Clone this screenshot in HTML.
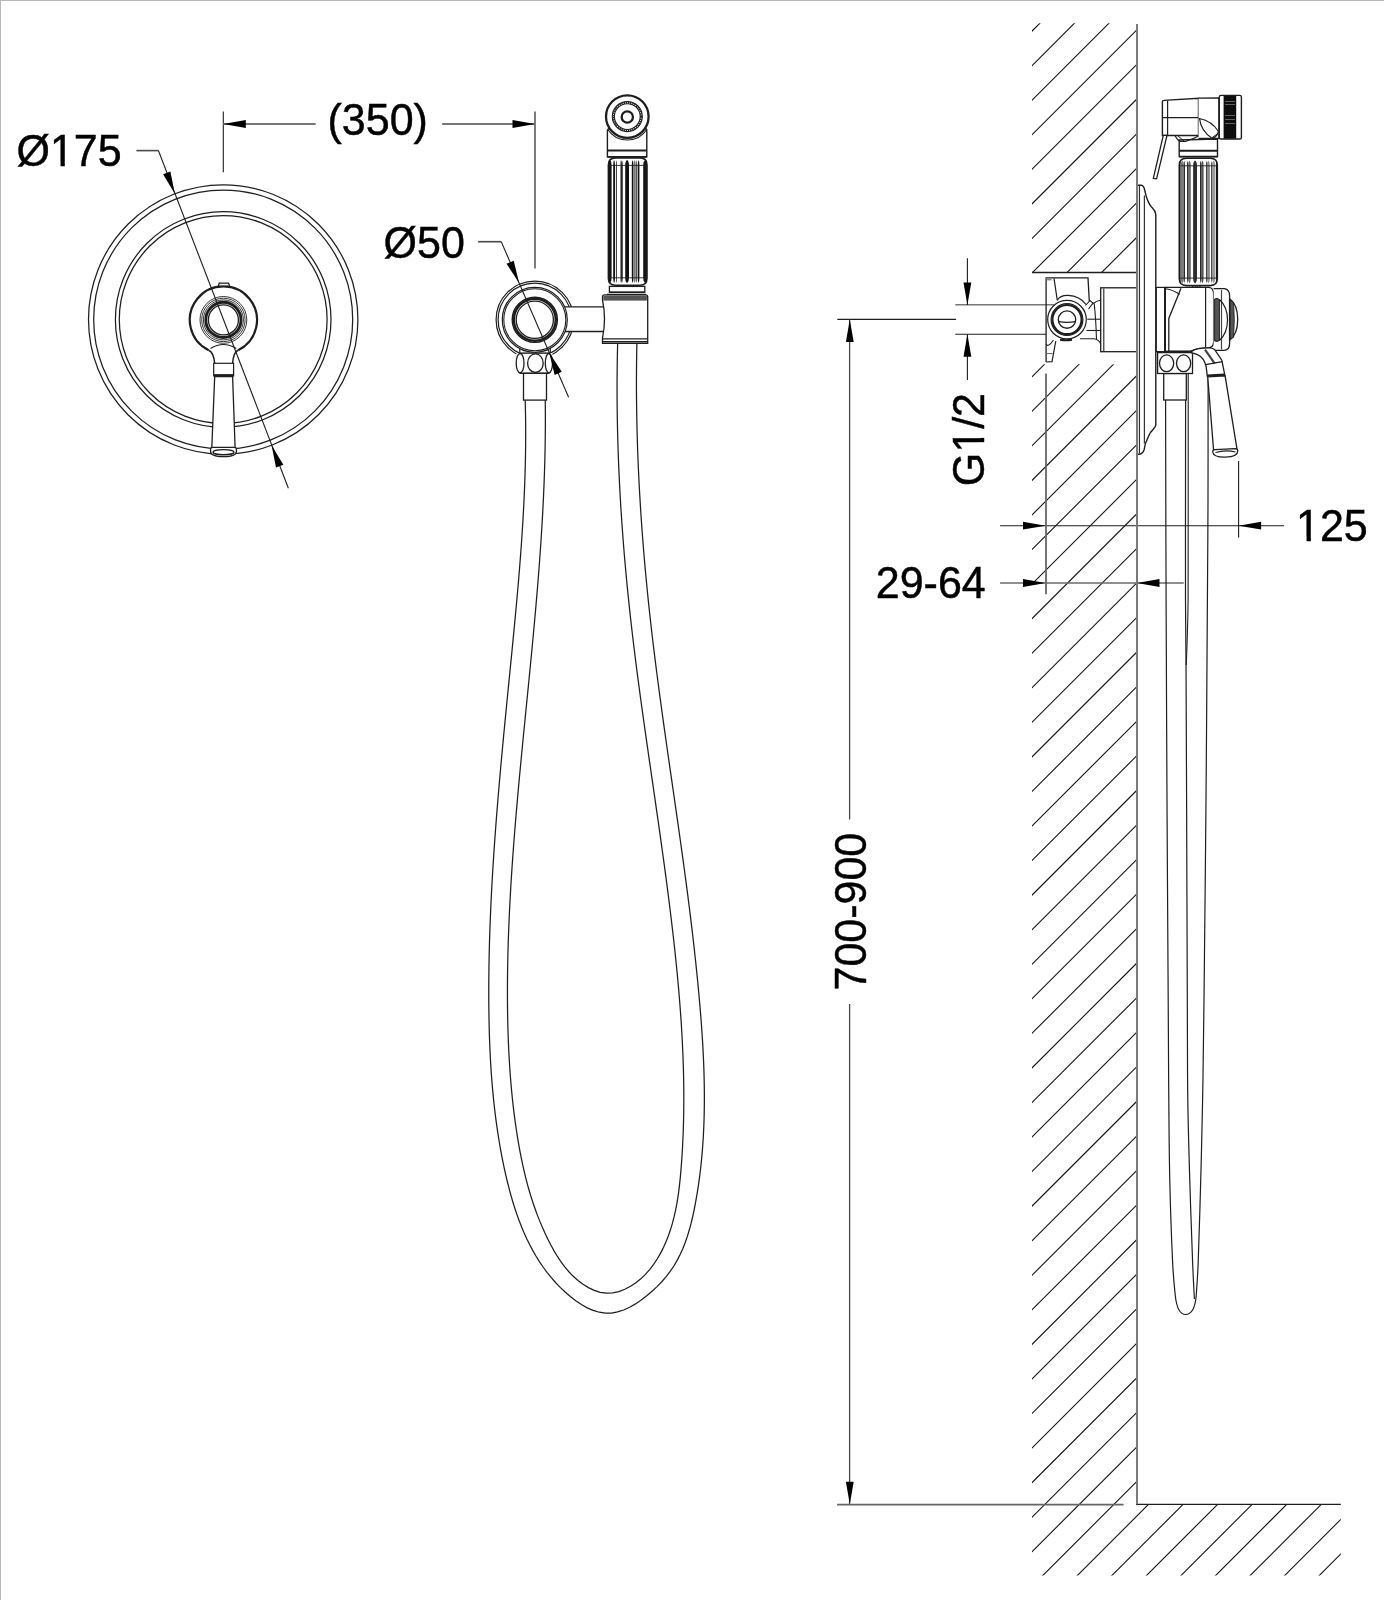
<!DOCTYPE html>
<html><head><meta charset="utf-8"><style>
html,body{margin:0;padding:0;background:#fff;}
body{width:1384px;height:1600px;overflow:hidden;}
svg{display:block;}
text{font-family:"Liberation Sans",sans-serif;fill:#000;stroke:#000;stroke-width:0.45px;}
svg{filter:grayscale(1);}
</style></head><body>
<svg width="1384" height="1600" viewBox="0 0 1384 1600">
<rect x="0" y="0" width="1384" height="1600" fill="#fff"/>
<line x1="0.00" y1="0.50" x2="1384.00" y2="0.50" stroke="#b9b9b9" stroke-width="1" />
<line x1="0.50" y1="0.00" x2="0.50" y2="1600.00" stroke="#b9b9b9" stroke-width="1" />
<circle cx="223.20" cy="319.50" r="134.70" stroke="#1e1e1e" stroke-width="1.25" fill="none" />
<circle cx="223.20" cy="319.50" r="129.50" stroke="#1e1e1e" stroke-width="1.25" fill="none" />
<circle cx="223.20" cy="319.50" r="107.80" stroke="#1e1e1e" stroke-width="1.25" fill="none" />
<circle cx="223.20" cy="319.50" r="103.90" stroke="#1e1e1e" stroke-width="1.25" fill="none" />
<path d="M208.67,350.20 A33.6,33.6 0 1 1 238.13,350.20" stroke="#1e1e1e" stroke-width="2.2" fill="none" />
<path d="M208.67,350.20 Q213.5,352 214.7,363.3" stroke="#1e1e1e" stroke-width="1.5" fill="none" />
<path d="M238.13,350.20 Q233.5,352 232.6,363.3" stroke="#1e1e1e" stroke-width="1.5" fill="none" />
<path d="M210.5,348.5 Q223.4,340.5 236.3,348.5" stroke="#1e1e1e" stroke-width="1.1" fill="none" />
<path d="M217.80,287.60 L219.20,283.20 L228.60,283.20 L230.00,287.60" stroke="#1e1e1e" stroke-width="1.3" fill="none" />
<line x1="219.50" y1="285.30" x2="228.30" y2="285.30" stroke="#777" stroke-width="0.8" />
<circle cx="223.40" cy="319.90" r="23.40" stroke="#1e1e1e" stroke-width="0.9" fill="none" />
<circle cx="223.40" cy="319.90" r="21.70" stroke="#1e1e1e" stroke-width="0.9" fill="none" />
<circle cx="223.40" cy="319.90" r="20.00" stroke="#1e1e1e" stroke-width="0.9" fill="none" />
<circle cx="223.40" cy="319.90" r="17.60" stroke="#1e1e1e" stroke-width="2.9" fill="none" />
<circle cx="223.40" cy="319.90" r="15.00" stroke="#1e1e1e" stroke-width="1.3" fill="none" />
<rect x="213.70" y="363.30" width="19.90" height="12.60" stroke="#1e1e1e" stroke-width="1.2" fill="#fff"/>
<line x1="213.70" y1="375.20" x2="233.60" y2="375.20" stroke="#1e1e1e" stroke-width="2.2" />
<path d="M214.70,376.50 L232.60,376.50 L235.10,447.60 L211.80,447.60 Z" stroke="#1e1e1e" stroke-width="1.3" fill="#fff" />
<path d="M210.6,449 Q210.6,447.3 213,447.3 L234,447.3 Q236.4,447.3 236.4,449 L236.4,451.5 Q236.4,456.6 223.5,456.6 Q210.6,456.6 210.6,451.5 Z" stroke="#1e1e1e" stroke-width="1.3" fill="#fff" />
<ellipse cx="223.50" cy="452.20" rx="10.50" ry="2.60" stroke="#1e1e1e" stroke-width="1.4" fill="none"/>
<line x1="136.40" y1="150.60" x2="158.40" y2="150.60" stroke="#4a4a4a" stroke-width="1.6" />
<line x1="158.40" y1="150.50" x2="288.40" y2="488.30" stroke="#1e1e1e" stroke-width="1.1" />
<path d="M174.82,193.79 L163.10,174.19 L170.38,171.39 Z" fill="#000" stroke="none"/>
<path d="M271.58,445.21 L283.30,464.81 L276.02,467.61 Z" fill="#000" stroke="none"/>
<g transform="translate(16.50,166.30) scale(1,1.04)"><text x="0" y="0" font-size="43">Ø175</text><rect x="36.00" y="-4.21" width="8.01" height="5.61" fill="#fff"/><rect x="48.31" y="-4.21" width="7.68" height="5.61" fill="#fff"/></g>
<line x1="223.30" y1="111.60" x2="223.30" y2="172.30" stroke="#1e1e1e" stroke-width="1.1" />
<line x1="535.00" y1="111.60" x2="535.00" y2="268.60" stroke="#777" stroke-width="1.9" />
<line x1="223.30" y1="124.00" x2="315.70" y2="124.00" stroke="#777" stroke-width="1.9" />
<line x1="442.20" y1="124.00" x2="535.00" y2="124.00" stroke="#777" stroke-width="1.9" />
<path d="M223.30,124.00 L245.80,120.10 L245.80,127.90 Z" fill="#000" stroke="none"/>
<path d="M535.00,124.00 L512.50,127.90 L512.50,120.10 Z" fill="#000" stroke="none"/>
<g transform="translate(327.50,135.30) scale(1,1.04)"><text x="0" y="0" font-size="43">(350)</text></g>
<path d="M525.16,398.96 L525.34,405.59 L525.48,412.22 L525.59,418.84 L525.65,425.46 L525.68,432.07 L525.67,438.69 L525.62,445.30 L525.54,451.91 L525.43,458.52 L525.29,465.12 L525.11,471.72 L524.90,478.32 L524.67,484.92 L524.40,491.52 L524.11,498.11 L523.79,504.70 L523.44,511.30 L523.08,517.89 L522.68,524.47 L522.27,531.06 L521.83,537.65 L521.38,544.23 L520.90,550.81 L520.41,557.40 L519.89,563.98 L519.37,570.56 L518.82,577.14 L518.26,583.72 L517.69,590.29 L517.11,596.87 L516.51,603.45 L515.91,610.03 L515.29,616.60 L514.67,623.18 L514.04,629.76 L513.40,636.34 L512.76,642.91 L512.12,649.49 L511.47,656.07 L510.81,662.64 L510.16,669.22 L509.51,675.80 L508.85,682.38 L508.20,688.96 L507.55,695.54 L506.90,702.12 L506.26,708.70 L505.62,715.29 L504.98,721.87 L504.34,728.45 L503.71,735.04 L503.09,741.62 L502.47,748.21 L501.86,754.79 L501.25,761.38 L500.65,767.97 L500.07,774.55 L499.48,781.14 L498.91,787.73 L498.35,794.32 L497.80,800.91 L497.26,807.50 L496.73,814.09 L496.21,820.68 L495.71,827.27 L495.22,833.86 L494.74,840.45 L494.28,847.05 L493.83,853.64 L493.39,860.23 L492.97,866.83 L492.57,873.42 L492.19,880.02 L491.82,886.61 L491.47,893.21 L491.14,899.80 L490.83,906.40 L490.54,913.00 L490.27,919.59 L490.01,926.19 L489.78,932.79 L489.58,939.39 L489.39,945.99 L489.23,952.59 L489.09,959.19 L488.97,965.79 L488.88,972.39 L488.82,978.99 L488.78,985.59 L488.77,992.20 L488.78,998.80 L488.82,1005.40 L488.89,1012.00 L488.99,1018.61 L489.13,1025.21 L489.30,1031.81 L489.50,1038.41 L489.75,1045.00 L490.04,1051.60 L490.37,1058.19 L490.75,1064.78 L491.17,1071.37 L491.64,1077.95 L492.17,1084.53 L492.75,1091.11 L493.38,1097.68 L494.07,1104.24 L494.82,1110.80 L495.63,1117.36 L496.51,1123.91 L497.44,1130.45 L498.45,1136.99 L499.53,1143.51 L500.67,1150.04 L501.89,1156.55 L503.19,1163.05 L504.56,1169.55 L506.02,1176.04 L507.56,1182.51 L509.19,1188.95 L510.93,1195.37 L512.79,1201.74 L514.76,1208.07 L516.87,1214.34 L519.11,1220.54 L521.50,1226.68 L524.04,1232.74 L526.75,1238.71 L529.63,1244.58 L532.69,1250.36 L535.95,1256.02 L539.41,1261.58 L543.09,1267.00 L546.99,1272.30 L551.14,1277.46 L555.53,1282.48 L560.19,1287.35 L565.11,1292.06 L570.31,1296.58 L575.75,1300.79 L581.40,1304.59 L587.21,1307.84 L593.16,1310.43 L599.21,1312.23 L605.32,1313.14 L611.45,1313.03 L617.57,1311.93 L623.65,1309.97 L629.64,1307.25 L635.51,1303.91 L641.22,1300.06 L646.74,1295.81 L652.03,1291.29 L657.05,1286.60 L661.77,1281.74 L666.17,1276.70 L670.20,1271.46 L673.85,1266.02 L677.15,1260.39 L680.13,1254.59 L682.80,1248.64 L685.20,1242.55 L687.35,1236.35 L689.28,1230.05 L691.00,1223.67 L692.55,1217.23 L693.96,1210.75 L695.24,1204.23 L696.42,1197.71 L697.51,1191.18 L698.51,1184.64 L699.43,1178.09 L700.25,1171.54 L701.00,1164.98 L701.66,1158.41 L702.24,1151.84 L702.75,1145.27 L703.19,1138.69 L703.55,1132.10 L703.84,1125.51 L704.07,1118.92 L704.23,1112.32 L704.33,1105.72 L704.37,1099.12 L704.36,1092.52 L704.28,1085.91 L704.16,1079.31 L703.99,1072.70 L703.76,1066.09 L703.49,1059.48 L703.18,1052.87 L702.83,1046.26 L702.44,1039.65 L702.01,1033.05 L701.55,1026.44 L701.06,1019.84 L700.54,1013.24 L699.99,1006.64 L699.41,1000.04 L698.82,993.45 L698.20,986.86 L697.56,980.27 L696.91,973.69 L696.23,967.11 L695.53,960.53 L694.82,953.96 L694.09,947.39 L693.35,940.82 L692.58,934.25 L691.81,927.69 L691.01,921.13 L690.21,914.57 L689.39,908.01 L688.56,901.46 L687.72,894.90 L686.86,888.35 L686.00,881.80 L685.12,875.25 L684.24,868.71 L683.35,862.16 L682.44,855.62 L681.54,849.07 L680.62,842.53 L679.70,835.99 L678.78,829.45 L677.85,822.91 L676.91,816.37 L675.98,809.84 L675.04,803.30 L674.10,796.76 L673.16,790.22 L672.21,783.69 L671.27,777.15 L670.33,770.62 L669.39,764.08 L668.45,757.54 L667.51,751.00 L666.58,744.47 L665.65,737.93 L664.73,731.39 L663.81,724.85 L662.90,718.31 L661.99,711.77 L661.10,705.23 L660.21,698.68 L659.33,692.14 L658.45,685.59 L657.59,679.04 L656.74,672.49 L655.90,665.94 L655.08,659.39 L654.26,652.84 L653.46,646.28 L652.67,639.72 L651.90,633.16 L651.14,626.60 L650.40,620.03 L649.68,613.46 L648.97,606.89 L648.28,600.32 L647.61,593.75 L646.96,587.17 L646.32,580.59 L645.70,574.01 L645.10,567.43 L644.51,560.84 L643.95,554.26 L643.40,547.67 L642.88,541.08 L642.37,534.49 L641.88,527.89 L641.41,521.30 L640.96,514.70 L640.54,508.11 L640.13,501.51 L639.74,494.91 L639.37,488.31 L639.02,481.71 L638.70,475.11 L638.39,468.50 L638.11,461.90 L637.85,455.30 L637.61,448.69 L637.39,442.09 L637.20,435.48 L637.02,428.87 L636.87,422.27 L636.74,415.66 L636.64,409.06 L636.56,402.45 L636.50,395.85 L636.46,389.24 L636.45,382.63 L636.47,376.03 L636.50,369.42 L636.57,362.82 L636.65,356.22 L636.76,349.61 L636.90,343.01" stroke="#1e1e1e" stroke-width="1.25" fill="none" />
<path d="M545.23,398.99 L545.31,405.42 L545.36,411.84 L545.38,418.25 L545.37,424.67 L545.33,431.09 L545.26,437.50 L545.17,443.91 L545.06,450.32 L544.91,456.73 L544.75,463.14 L544.56,469.55 L544.34,475.96 L544.10,482.36 L543.84,488.77 L543.56,495.17 L543.26,501.57 L542.94,507.97 L542.60,514.37 L542.24,520.77 L541.86,527.17 L541.46,533.56 L541.05,539.96 L540.62,546.35 L540.17,552.75 L539.71,559.14 L539.24,565.53 L538.75,571.93 L538.24,578.32 L537.73,584.71 L537.20,591.10 L536.66,597.49 L536.11,603.88 L535.55,610.26 L534.98,616.65 L534.41,623.04 L533.82,629.43 L533.23,635.81 L532.63,642.20 L532.02,648.58 L531.41,654.97 L530.79,661.36 L530.17,667.74 L529.54,674.13 L528.91,680.51 L528.28,686.90 L527.65,693.28 L527.01,699.66 L526.38,706.05 L525.74,712.43 L525.11,718.82 L524.47,725.20 L523.84,731.59 L523.21,737.97 L522.59,744.36 L521.97,750.74 L521.35,757.13 L520.74,763.52 L520.13,769.90 L519.53,776.29 L518.94,782.68 L518.35,789.06 L517.78,795.45 L517.21,801.84 L516.65,808.23 L516.10,814.62 L515.56,821.01 L515.04,827.40 L514.52,833.79 L514.02,840.18 L513.53,846.58 L513.06,852.97 L512.60,859.36 L512.15,865.76 L511.73,872.16 L511.31,878.55 L510.92,884.95 L510.54,891.35 L510.18,897.75 L509.84,904.15 L509.52,910.55 L509.22,916.96 L508.94,923.36 L508.69,929.77 L508.45,936.17 L508.24,942.58 L508.05,948.99 L507.88,955.40 L507.74,961.81 L507.63,968.23 L507.54,974.64 L507.48,981.06 L507.44,987.48 L507.44,993.89 L507.46,1000.32 L507.51,1006.74 L507.59,1013.16 L507.71,1019.58 L507.85,1026.01 L508.04,1032.43 L508.26,1038.85 L508.52,1045.27 L508.82,1051.68 L509.16,1058.09 L509.55,1064.50 L509.98,1070.90 L510.45,1077.30 L510.98,1083.69 L511.55,1090.08 L512.17,1096.46 L512.85,1102.83 L513.58,1109.19 L514.37,1115.55 L515.21,1121.89 L516.11,1128.23 L517.08,1134.55 L518.10,1140.86 L519.19,1147.16 L520.36,1153.45 L521.60,1159.71 L522.94,1165.96 L524.36,1172.20 L525.88,1178.41 L527.50,1184.59 L529.23,1190.75 L531.08,1196.89 L533.05,1203.00 L535.15,1209.07 L537.37,1215.12 L539.74,1221.13 L542.26,1227.11 L544.92,1233.05 L547.74,1238.96 L550.73,1244.81 L553.90,1250.57 L557.28,1256.20 L560.88,1261.63 L564.74,1266.83 L568.86,1271.75 L573.27,1276.33 L577.99,1280.53 L583.04,1284.31 L588.44,1287.62 L594.19,1290.35 L600.20,1292.30 L606.38,1293.24 L612.63,1292.96 L618.83,1291.57 L624.84,1289.29 L630.53,1286.33 L635.86,1282.83 L640.81,1278.84 L645.42,1274.41 L649.68,1269.59 L653.60,1264.44 L657.19,1259.00 L660.47,1253.33 L663.44,1247.48 L666.11,1241.50 L668.49,1235.43 L670.60,1229.32 L672.46,1223.15 L674.08,1216.95 L675.50,1210.71 L676.72,1204.43 L677.78,1198.13 L678.68,1191.80 L679.46,1185.45 L680.14,1179.09 L680.73,1172.71 L681.25,1166.34 L681.73,1159.96 L682.15,1153.57 L682.52,1147.19 L682.84,1140.80 L683.12,1134.41 L683.34,1128.01 L683.52,1121.62 L683.66,1115.22 L683.75,1108.82 L683.80,1102.42 L683.81,1096.02 L683.77,1089.62 L683.70,1083.21 L683.59,1076.81 L683.44,1070.40 L683.25,1064.00 L683.02,1057.59 L682.76,1051.18 L682.47,1044.78 L682.14,1038.37 L681.78,1031.97 L681.39,1025.56 L680.97,1019.15 L680.52,1012.75 L680.05,1006.35 L679.54,999.94 L679.01,993.54 L678.46,987.14 L677.88,980.74 L677.28,974.35 L676.65,967.95 L676.00,961.56 L675.34,955.17 L674.65,948.78 L673.95,942.39 L673.23,936.01 L672.49,929.63 L671.74,923.25 L670.98,916.87 L670.20,910.50 L669.41,904.13 L668.60,897.76 L667.78,891.40 L666.96,885.03 L666.12,878.67 L665.27,872.31 L664.41,865.96 L663.55,859.60 L662.67,853.25 L661.79,846.90 L660.90,840.54 L660.01,834.20 L659.11,827.85 L658.20,821.50 L657.29,815.15 L656.38,808.81 L655.47,802.46 L654.55,796.12 L653.63,789.78 L652.71,783.44 L651.79,777.09 L650.87,770.75 L649.95,764.41 L649.03,758.07 L648.12,751.72 L647.21,745.38 L646.30,739.04 L645.39,732.70 L644.49,726.35 L643.60,720.01 L642.71,713.66 L641.83,707.31 L640.96,700.97 L640.09,694.62 L639.24,688.27 L638.39,681.92 L637.55,675.56 L636.72,669.21 L635.91,662.85 L635.11,656.50 L634.31,650.14 L633.54,643.78 L632.77,637.41 L632.02,631.04 L631.29,624.68 L630.57,618.31 L629.87,611.93 L629.18,605.56 L628.51,599.18 L627.86,592.80 L627.23,586.41 L626.61,580.03 L626.01,573.64 L625.42,567.25 L624.86,560.86 L624.31,554.47 L623.78,548.07 L623.27,541.68 L622.78,535.28 L622.31,528.88 L621.85,522.48 L621.42,516.07 L621.00,509.67 L620.61,503.27 L620.23,496.86 L619.88,490.45 L619.54,484.05 L619.23,477.64 L618.93,471.23 L618.66,464.82 L618.40,458.41 L618.17,452.00 L617.96,445.59 L617.77,439.17 L617.61,432.76 L617.46,426.35 L617.34,419.94 L617.24,413.53 L617.16,407.11 L617.10,400.70 L617.07,394.29 L617.06,387.88 L617.07,381.47 L617.11,375.06 L617.17,368.65 L617.26,362.24 L617.37,355.83 L617.50,349.42 L617.66,343.01" stroke="#1e1e1e" stroke-width="1.25" fill="none" />
<circle cx="534.80" cy="319.80" r="38.70" stroke="#1e1e1e" stroke-width="1.2" fill="none" />
<circle cx="534.80" cy="319.80" r="36.70" stroke="#1e1e1e" stroke-width="1.2" fill="none" />
<rect x="556" y="306.8" width="47" height="24.7" fill="#fff" stroke="none"/>
<line x1="556.00" y1="306.80" x2="603.00" y2="306.80" stroke="#1e1e1e" stroke-width="1.3" />
<line x1="556.00" y1="331.50" x2="603.00" y2="331.50" stroke="#1e1e1e" stroke-width="1.3" />
<rect x="519.8" y="340" width="30.5" height="14" fill="#fff" stroke="none"/>
<line x1="519.80" y1="345.50" x2="519.80" y2="353.60" stroke="#1e1e1e" stroke-width="1.2" />
<line x1="550.30" y1="345.50" x2="550.30" y2="353.60" stroke="#1e1e1e" stroke-width="1.2" />
<circle cx="534.80" cy="319.80" r="32.50" stroke="#1e1e1e" stroke-width="1.2" fill="#fff" />
<circle cx="534.80" cy="319.80" r="31.00" stroke="#1e1e1e" stroke-width="1.1" fill="none" />
<circle cx="534.80" cy="319.80" r="22.60" stroke="#1e1e1e" stroke-width="1.4" fill="none" />
<circle cx="534.80" cy="319.80" r="21.00" stroke="#1e1e1e" stroke-width="2.6" fill="none" />
<circle cx="534.80" cy="319.80" r="18.60" stroke="#1e1e1e" stroke-width="1.3" fill="none" />
<rect x="516.4" y="353.1" width="36" height="20.2" fill="#fff" stroke="none"/>
<line x1="519.50" y1="353.10" x2="549.50" y2="353.10" stroke="#1e1e1e" stroke-width="1.4" />
<line x1="519.50" y1="373.30" x2="549.50" y2="373.30" stroke="#1e1e1e" stroke-width="1.4" />
<ellipse cx="520.10" cy="363.20" rx="3.90" ry="9.70" stroke="#1e1e1e" stroke-width="1.3" fill="none"/>
<ellipse cx="535.40" cy="363.20" rx="7.80" ry="9.30" stroke="#1e1e1e" stroke-width="1.3" fill="none"/>
<ellipse cx="548.90" cy="363.20" rx="3.60" ry="9.70" stroke="#1e1e1e" stroke-width="1.3" fill="none"/>
<rect x="523.50" y="373.30" width="23.00" height="26.80" stroke="#1e1e1e" stroke-width="1.3" fill="#fff"/>
<line x1="478.10" y1="241.70" x2="501.20" y2="241.70" stroke="#4a4a4a" stroke-width="1.6" />
<line x1="501.20" y1="241.60" x2="568.60" y2="397.30" stroke="#1e1e1e" stroke-width="1.1" />
<path d="M519.10,282.90 L506.58,263.80 L513.74,260.70 Z" fill="#000" stroke="none"/>
<path d="M549.29,352.70 L561.81,371.80 L554.65,374.90 Z" fill="#000" stroke="none"/>
<g transform="translate(383.60,257.60) scale(1,1.04)"><text x="0" y="0" font-size="43">Ø50</text></g>
<path d="M602.5,297 L602.5,300 Q606.5,319 602.5,338 L602.5,343.4 L647.7,343.4 L647.7,297 Q647.7,294.9 645.5,294.9 L604.7,294.9 Q602.5,294.9 602.5,297 Z" stroke="#1e1e1e" stroke-width="1.3" fill="#fff" />
<rect x="603.3" y="295.6" width="43.6" height="5" fill="#555"/>
<line x1="603.00" y1="338.90" x2="647.20" y2="338.90" stroke="#1e1e1e" stroke-width="1.2" />
<line x1="603.00" y1="341.80" x2="647.20" y2="341.80" stroke="#1e1e1e" stroke-width="1.6" />
<rect x="609.40" y="286.40" width="35.40" height="5.90" stroke="#1e1e1e" stroke-width="1.3" fill="#fff"/>
<line x1="610.00" y1="292.30" x2="644.00" y2="292.30" stroke="#1e1e1e" stroke-width="1.6" />
<line x1="607.00" y1="294.30" x2="646.00" y2="294.30" stroke="#1e1e1e" stroke-width="1.2" />
<path d="M608.4,164.9 Q608.4,157.9 615.4,157.9 L640.0,157.9 Q647.0,157.9 647.0,164.9 L647.0,278.3 Q647.0,285.3 640.0,285.3 L615.4,285.3 Q608.4,285.3 608.4,278.3 Z" stroke="#1e1e1e" stroke-width="1.6" fill="#fff" />
<path d="M608.60,165.5 L608.60,277.7 Q608.60,281.8 610.10,283.1 Q611.60,281.8 611.60,277.7 L611.60,165.5 Q611.60,161.4 610.10,160.1 Q608.60,161.4 608.60,165.5 Z" fill="#151515"/>
<path d="M613.20,165.5 L613.20,277.7 Q613.20,281.8 614.10,283.1 Q615.00,281.8 615.00,277.7 L615.00,165.5 Q615.00,161.4 614.10,160.1 Q613.20,161.4 613.20,165.5 Z" fill="#111"/>
<path d="M615.90,165.5 L615.90,277.7 Q615.90,281.8 616.45,283.1 Q617.00,281.8 617.00,277.7 L617.00,165.5 Q617.00,161.4 616.45,160.1 Q615.90,161.4 615.90,165.5 Z" fill="#444"/>
<path d="M620.25,165.5 L620.25,277.7 Q620.25,281.8 620.70,283.1 Q621.15,281.8 621.15,277.7 L621.15,165.5 Q621.15,161.4 620.70,160.1 Q620.25,161.4 620.25,165.5 Z" fill="#666"/>
<path d="M621.10,165.5 L621.10,277.7 Q621.10,281.8 621.90,283.1 Q622.70,281.8 622.70,277.7 L622.70,165.5 Q622.70,161.4 621.90,160.1 Q621.10,161.4 621.10,165.5 Z" fill="#111"/>
<path d="M625.20,165.5 L625.20,277.7 Q625.20,281.8 627.10,283.1 Q629.00,281.8 629.00,277.7 L629.00,165.5 Q629.00,161.4 627.10,160.1 Q625.20,161.4 625.20,165.5 Z" fill="#111"/>
<path d="M631.80,165.5 L631.80,277.7 Q631.80,281.8 632.60,283.1 Q633.40,281.8 633.40,277.7 L633.40,165.5 Q633.40,161.4 632.60,160.1 Q631.80,161.4 631.80,165.5 Z" fill="#111"/>
<path d="M633.50,165.5 L633.50,277.7 Q633.50,281.8 634.65,283.1 Q635.80,281.8 635.80,277.7 L635.80,165.5 Q635.80,161.4 634.65,160.1 Q633.50,161.4 633.50,165.5 Z" fill="#7a7a7a"/>
<path d="M636.00,165.5 L636.00,277.7 Q636.00,281.8 636.60,283.1 Q637.20,281.8 637.20,277.7 L637.20,165.5 Q637.20,161.4 636.60,160.1 Q636.00,161.4 636.00,165.5 Z" fill="#555"/>
<path d="M637.80,165.5 L637.80,277.7 Q637.80,281.8 638.60,283.1 Q639.40,281.8 639.40,277.7 L639.40,165.5 Q639.40,161.4 638.60,160.1 Q637.80,161.4 637.80,165.5 Z" fill="#111"/>
<path d="M643.20,165.5 L643.20,277.7 Q643.20,281.8 645.00,283.1 Q646.80,281.8 646.80,277.7 L646.80,165.5 Q646.80,161.4 645.00,160.1 Q643.20,161.4 643.20,165.5 Z" fill="#151515"/>
<line x1="609.40" y1="165.40" x2="646.00" y2="165.40" stroke="#222" stroke-width="0.9" />
<line x1="609.40" y1="277.80" x2="646.00" y2="277.80" stroke="#222" stroke-width="0.9" />
<path d="M607.4,156.9 L607.4,131 Q608,128 612,127.5 L643,127.5 Q646.8,128 646.8,131 L646.8,156.9 Z" stroke="#1e1e1e" stroke-width="1.4" fill="#fff" />
<line x1="607.40" y1="150.50" x2="646.80" y2="150.50" stroke="#1e1e1e" stroke-width="2.0" />
<line x1="607.40" y1="156.90" x2="646.80" y2="156.90" stroke="#1e1e1e" stroke-width="1.6" />
<path d="M607.46,129.00 A23.4,23.4 0 0 0 647.14,129.00" stroke="#1e1e1e" stroke-width="1.1" fill="none" />
<circle cx="627.30" cy="116.60" r="21.30" stroke="#1e1e1e" stroke-width="2.3" fill="#fff" />
<circle cx="627.30" cy="116.60" r="15.00" stroke="#1e1e1e" stroke-width="1.1" fill="none" />
<circle cx="627.30" cy="116.60" r="12.90" stroke="#1e1e1e" stroke-width="1.1" fill="none" />
<circle cx="627.30" cy="116.60" r="13.95" stroke="#1e1e1e" stroke-width="2.1" fill="none" stroke-dasharray="1.3 0.9"/>
<circle cx="627.30" cy="117.00" r="5.65" stroke="#1e1e1e" stroke-width="2.3" fill="none" />
<clipPath id="hc"><path d="M1032.0,23.3 L1137.0,23.3 L1137.0,272.5 L1032.0,272.5 Z M1032.0,364.2 L1137.0,364.2 L1137.0,1504.3 L1340.8,1504.3 L1340.8,1575.6 L1032.0,1575.6 Z"/></clipPath>
<path d="M-636.90,1700 L1113.10,-50 M-602.34,1700 L1147.66,-50 M-567.78,1700 L1182.22,-50 M-533.22,1700 L1216.78,-50 M-498.66,1700 L1251.34,-50 M-464.10,1700 L1285.90,-50 M-429.54,1700 L1320.46,-50 M-394.98,1700 L1355.02,-50 M-360.42,1700 L1389.58,-50 M-325.86,1700 L1424.14,-50 M-291.30,1700 L1458.70,-50 M-256.74,1700 L1493.26,-50 M-222.18,1700 L1527.82,-50 M-187.62,1700 L1562.38,-50 M-153.06,1700 L1596.94,-50 M-118.50,1700 L1631.50,-50 M-83.94,1700 L1666.06,-50 M-49.38,1700 L1700.62,-50 M-14.82,1700 L1735.18,-50 M19.74,1700 L1769.74,-50 M54.30,1700 L1804.30,-50 M88.86,1700 L1838.86,-50 M123.42,1700 L1873.42,-50 M157.98,1700 L1907.98,-50 M192.54,1700 L1942.54,-50 M227.10,1700 L1977.10,-50 M261.66,1700 L2011.66,-50 M296.22,1700 L2046.22,-50 M330.78,1700 L2080.78,-50 M365.34,1700 L2115.34,-50 M399.90,1700 L2149.90,-50 M434.46,1700 L2184.46,-50 M469.02,1700 L2219.02,-50 M503.58,1700 L2253.58,-50 M538.14,1700 L2288.14,-50 M572.70,1700 L2322.70,-50 M607.26,1700 L2357.26,-50 M641.82,1700 L2391.82,-50 M676.38,1700 L2426.38,-50 M710.94,1700 L2460.94,-50 M745.50,1700 L2495.50,-50 M780.06,1700 L2530.06,-50 M814.62,1700 L2564.62,-50 M849.18,1700 L2599.18,-50 M883.74,1700 L2633.74,-50 M918.30,1700 L2668.30,-50 M952.86,1700 L2702.86,-50 M987.42,1700 L2737.42,-50 M1021.98,1700 L2771.98,-50 M1056.54,1700 L2806.54,-50 M1091.10,1700 L2841.10,-50 M1125.66,1700 L2875.66,-50 M1160.22,1700 L2910.22,-50 M1194.78,1700 L2944.78,-50" stroke="#141414" stroke-width="1.1" fill="none" clip-path="url(#hc)"/>
<line x1="1032.00" y1="272.50" x2="1137.00" y2="272.50" stroke="#1e1e1e" stroke-width="1.3" />
<line x1="1137.00" y1="23.90" x2="1137.00" y2="1504.30" stroke="#7a7a7a" stroke-width="1.9" />
<line x1="1136.00" y1="1504.30" x2="1340.80" y2="1504.30" stroke="#1e1e1e" stroke-width="1.3" />
<line x1="837.30" y1="319.40" x2="956.10" y2="319.40" stroke="#1e1e1e" stroke-width="1.1" />
<line x1="849.60" y1="319.40" x2="849.60" y2="819.50" stroke="#4a4a4a" stroke-width="1.3" />
<line x1="849.60" y1="1003.90" x2="849.60" y2="1504.30" stroke="#4a4a4a" stroke-width="1.3" />
<path d="M849.80,319.40 L853.70,341.90 L845.90,341.90 Z" fill="#000" stroke="none"/>
<path d="M849.80,1504.30 L845.90,1481.80 L853.70,1481.80 Z" fill="#000" stroke="none"/>
<line x1="837.10" y1="1504.70" x2="1123.60" y2="1504.70" stroke="#666" stroke-width="1.8" />
<g transform="translate(865.60,990.50) rotate(-90) scale(1,1.04)"><text x="0" y="0" font-size="43">700-900</text></g>
<line x1="955.30" y1="304.80" x2="1054.30" y2="304.80" stroke="#777" stroke-width="1.5" />
<line x1="955.30" y1="334.30" x2="1046.00" y2="334.30" stroke="#1e1e1e" stroke-width="1.1" />
<line x1="967.40" y1="258.20" x2="967.40" y2="304.90" stroke="#1e1e1e" stroke-width="1.1" />
<line x1="967.40" y1="334.30" x2="967.40" y2="380.10" stroke="#1e1e1e" stroke-width="1.1" />
<path d="M967.40,304.90 L963.50,282.40 L971.30,282.40 Z" fill="#000" stroke="none"/>
<path d="M967.40,334.30 L971.30,356.80 L963.50,356.80 Z" fill="#000" stroke="none"/>
<g transform="translate(983.90,486.20) rotate(-90) scale(1,1.04)"><text x="0" y="0" font-size="43">G1/2</text><rect x="36.00" y="-4.21" width="8.01" height="5.61" fill="#fff"/><rect x="48.31" y="-4.21" width="7.68" height="5.61" fill="#fff"/></g>
<line x1="1000.10" y1="525.70" x2="1284.10" y2="525.70" stroke="#1e1e1e" stroke-width="1.1" />
<path d="M1045.50,525.70 L1023.00,529.60 L1023.00,521.80 Z" fill="#000" stroke="none"/>
<path d="M1238.60,525.70 L1261.10,521.80 L1261.10,529.60 Z" fill="#000" stroke="none"/>
<line x1="1238.60" y1="461.10" x2="1238.60" y2="537.50" stroke="#1e1e1e" stroke-width="1.1" />
<g transform="translate(1296.00,541.00) scale(1,1.04)"><text x="0" y="0" font-size="43">125</text><rect x="2.55" y="-4.21" width="8.01" height="5.61" fill="#fff"/><rect x="14.86" y="-4.21" width="7.68" height="5.61" fill="#fff"/></g>
<line x1="1000.10" y1="583.00" x2="1183.70" y2="583.00" stroke="#6a6a6a" stroke-width="1.5" />
<path d="M1045.50,583.00 L1023.00,586.90 L1023.00,579.10 Z" fill="#000" stroke="none"/>
<path d="M1137.00,583.00 L1159.50,579.10 L1159.50,586.90 Z" fill="#000" stroke="none"/>
<line x1="1046.00" y1="373.50" x2="1046.00" y2="594.20" stroke="#666" stroke-width="1.8" />
<g transform="translate(875.80,598.30) scale(1,1.04)"><text x="0" y="0" font-size="43">29-64</text></g>
<path d="M1046.1,362 L1046.1,277.9 L1088,277.9 L1089.3,301" stroke="#1e1e1e" stroke-width="1.3" fill="none" />
<path d="M1054,278.3 L1057.3,300.3" stroke="#1e1e1e" stroke-width="1.2" fill="none" />
<line x1="1046.50" y1="279.20" x2="1051.50" y2="279.20" stroke="#888" stroke-width="2.4" />
<path d="M1057.3,300.3 Q1060,295.2 1068,295.4 Q1080,296 1086,304.5" stroke="#1e1e1e" stroke-width="1.2" fill="none" />
<circle cx="1067.00" cy="319.60" r="19.30" stroke="#1e1e1e" stroke-width="1.2" fill="none" />
<circle cx="1067.00" cy="319.60" r="15.90" stroke="#1e1e1e" stroke-width="1.2" fill="none" />
<circle cx="1067.00" cy="319.60" r="14.60" stroke="#1e1e1e" stroke-width="2.2" fill="none" />
<circle cx="1067.00" cy="319.60" r="8.70" stroke="#1e1e1e" stroke-width="1.4" fill="none" />
<path d="M1058.6,321.6 Q1067,323.2 1075.4,321.6" stroke="#1e1e1e" stroke-width="1.2" fill="none" />
<path d="M1046.1,344 Q1048,348 1053.5,340" stroke="#1e1e1e" stroke-width="1.1" fill="none" />
<path d="M1055.8,341 L1052,361.6 L1046.1,362" stroke="#1e1e1e" stroke-width="1.2" fill="none" />
<line x1="1046.30" y1="353.50" x2="1052.50" y2="353.50" stroke="#666" stroke-width="1.0" />
<path d="M1060,339.8 Q1066,340.8 1072,339.8" stroke="#1e1e1e" stroke-width="2.0" fill="none" />
<path d="M1085.5,305.5 L1090,300.5 L1093,303 L1088.5,309" stroke="#1e1e1e" stroke-width="1.1" fill="none" />
<path d="M1092.5,304 Q1098,300 1100.7,300.5" stroke="#1e1e1e" stroke-width="1.1" fill="none" />
<line x1="1087.30" y1="319.20" x2="1100.70" y2="319.20" stroke="#1e1e1e" stroke-width="1.1" />
<line x1="1086.50" y1="330.50" x2="1100.70" y2="330.50" stroke="#1e1e1e" stroke-width="1.1" />
<path d="M1094.2,303.5 Q1096,320 1096.5,340" stroke="#1e1e1e" stroke-width="1.1" fill="none" />
<path d="M1080,338.8 L1094,338.8 Q1099,339.5 1100.7,344" stroke="#1e1e1e" stroke-width="1.1" fill="none" />
<rect x="1100.70" y="287.80" width="36.30" height="63.90" stroke="#1e1e1e" stroke-width="1.3" fill="#fff"/>
<line x1="1103.80" y1="288.50" x2="1103.80" y2="351.00" stroke="#1e1e1e" stroke-width="1.1" />
<path d="M1137.6,185.2 L1141.3,185.2 C1143.3,185.4 1144.3,187.5 1144.8,190.5 L1146.2,196.3 C1147.5,200.5 1149.2,204.5 1151.5,207 C1153.5,209 1155.4,210.5 1155.8,214.5 L1155.8,425 C1155.6,427 1153,429.5 1150.6,432.3 C1149,434.5 1147.5,439 1145.8,442.5 C1144.8,445 1144.6,448 1144.2,449.5 C1143.2,452.5 1141,454.3 1138.6,454.3 L1137.6,454.3" stroke="#1e1e1e" stroke-width="1.4" fill="#fff" />
<line x1="1139.45" y1="185.60" x2="1139.45" y2="453.60" stroke="#333" stroke-width="1.2" />
<line x1="1144.40" y1="195.60" x2="1144.40" y2="443.50" stroke="#333" stroke-width="1.2" />
<line x1="1137.00" y1="23.90" x2="1137.00" y2="1504.30" stroke="#7a7a7a" stroke-width="1.9" />
<rect x="1156.30" y="287.40" width="8.70" height="64.20" stroke="#1e1e1e" stroke-width="1.2" fill="#fff"/>
<line x1="1165.00" y1="288.00" x2="1165.00" y2="351.00" stroke="#1e1e1e" stroke-width="2.0" />
<path d="M1165,287.4 L1209,287.4 Q1213.6,288 1213.6,294 L1213.6,342 Q1213.6,347.6 1208,347.8 L1200,348.3 Q1194,349 1190.5,351.3 L1168.8,351.3 L1168.8,318.4 L1181,288.2" stroke="#1e1e1e" stroke-width="1.3" fill="#fff" />
<line x1="1205.60" y1="288.00" x2="1205.60" y2="347.50" stroke="#1e1e1e" stroke-width="1.2" />
<path d="M1165.5,288.7 Q1174,290 1179.6,294.5" stroke="#1e1e1e" stroke-width="1.1" fill="none" />
<line x1="1164.80" y1="351.30" x2="1195.00" y2="351.30" stroke="#1e1e1e" stroke-width="1.4" />
<path d="M1192.6,288 L1192.6,285 L1199.9,285 L1199.9,288" stroke="#1e1e1e" stroke-width="1.4" fill="none" />
<line x1="1195.30" y1="285.80" x2="1195.30" y2="288.00" stroke="#1e1e1e" stroke-width="1.1" />
<line x1="1197.30" y1="285.80" x2="1197.30" y2="288.00" stroke="#1e1e1e" stroke-width="1.1" />
<path d="M1213.6,288.7 L1224.5,288.7 Q1229.6,289.5 1229.6,296 L1229.6,343.5 Q1229.6,350.2 1224,350.3 L1213.6,350.3" stroke="#1e1e1e" stroke-width="1.3" fill="#fff" />
<line x1="1221.50" y1="290.00" x2="1221.50" y2="349.50" stroke="#444" stroke-width="1.2" />
<path d="M1214.6,299 Q1217,297.6 1219.4,299.5 L1219.4,340.5 Q1217,342.2 1214.6,341 Z" fill="#555" stroke="#111" stroke-width="0.9"/>
<path d="M1219.4,299.5 C1225.5,305 1227.5,312 1227.5,320 C1227.5,328 1225.5,335 1219.4,340.5" stroke="#1e1e1e" stroke-width="1.2" fill="none" />
<path d="M1229.6,298.8 C1235.5,303 1237.7,311 1237.7,319.6 C1237.7,328 1235.5,336 1229.6,340.3 Z" fill="#fff" stroke="#1e1e1e" stroke-width="1.3"/>
<path d="M1230.3,300 L1233.6,302.6 Q1235,319.6 1233.6,337.2 L1230.3,339.2 Z" fill="#555" stroke="#111" stroke-width="0.8"/>
<path d="M1165.60,400.00 C1165.63,416.67 1165.72,466.67 1165.80,500.00 C1165.88,533.33 1165.90,550.00 1166.10,600.00 C1166.30,650.00 1166.65,733.33 1167.00,800.00 C1167.35,866.67 1167.90,950.00 1168.20,1000.00 C1168.50,1050.00 1168.53,1069.83 1168.80,1100.00 C1169.07,1130.17 1169.17,1154.00 1169.80,1181.00 C1170.43,1208.00 1171.68,1242.83 1172.60,1262.00 C1173.52,1281.17 1174.85,1290.33 1175.30,1296.00" stroke="#1e1e1e" stroke-width="1.2" fill="none" />
<path d="M1185.60,400.00 C1185.58,416.67 1185.52,466.67 1185.50,500.00 C1185.48,533.33 1185.42,573.33 1185.50,600.00 C1185.58,626.67 1185.82,626.67 1186.00,660.00 C1186.18,693.33 1186.38,743.33 1186.60,800.00 C1186.82,856.67 1187.10,950.00 1187.30,1000.00 C1187.50,1050.00 1187.38,1069.83 1187.80,1100.00 C1188.22,1130.17 1189.00,1154.00 1189.80,1181.00 C1190.60,1208.00 1191.83,1242.33 1192.60,1262.00 C1193.37,1281.67 1194.10,1292.83 1194.40,1299.00" stroke="#1e1e1e" stroke-width="1.2" fill="none" />
<path d="M1188.20,373.80 C1188.20,394.83 1188.22,462.30 1188.20,500.00 C1188.18,537.70 1188.30,575.83 1188.10,600.00 C1187.90,624.17 1187.32,634.17 1187.00,645.00 C1186.68,655.83 1186.33,661.67 1186.20,665.00" stroke="#1e1e1e" stroke-width="1.1" fill="none" />
<path d="M1208.10,377.50 C1208.08,397.92 1208.12,462.92 1208.00,500.00 C1207.88,537.08 1207.73,550.00 1207.40,600.00 C1207.07,650.00 1206.57,733.33 1206.00,800.00 C1205.43,866.67 1204.57,950.00 1204.00,1000.00 C1203.43,1050.00 1203.15,1069.83 1202.60,1100.00 C1202.05,1130.17 1201.43,1154.00 1200.70,1181.00 C1199.97,1208.00 1198.95,1242.83 1198.20,1262.00 C1197.45,1281.17 1196.53,1290.33 1196.20,1296.00" stroke="#1e1e1e" stroke-width="1.2" fill="none" />
<path d="M1175.3,1296 Q1177.5,1314.5 1185.5,1314.5 Q1194.5,1314.5 1196.2,1296" stroke="#1e1e1e" stroke-width="1.2" fill="none" />
<rect x="1163.70" y="373.50" width="22.60" height="26.50" stroke="#1e1e1e" stroke-width="1.3" fill="#fff"/>
<rect x="1157.60" y="352.60" width="34.90" height="20.90" stroke="#1e1e1e" stroke-width="1.3" fill="#fff"/>
<ellipse cx="1166.60" cy="363.30" rx="7.10" ry="8.40" stroke="#1e1e1e" stroke-width="1.3" fill="none"/>
<ellipse cx="1183.60" cy="363.30" rx="7.10" ry="8.40" stroke="#1e1e1e" stroke-width="1.3" fill="none"/>
<path d="M1190.5,352.4 Q1194,349.2 1200.6,348.4 L1208,347.9 Q1212.5,347.8 1214.5,349.5 L1221.8,360.2 L1224.8,375.2 L1207.3,376.2 L1206.2,367 Q1204.2,357.5 1197.5,354.6 Q1194,353.2 1190.5,352.4 Z" stroke="#1e1e1e" stroke-width="1.3" fill="#fff" />
<path d="M1205,349.6 L1214.8,363.6" stroke="#444" stroke-width="2.2" fill="none" />
<line x1="1205.60" y1="364.60" x2="1222.30" y2="361.60" stroke="#1e1e1e" stroke-width="1.2" />
<line x1="1207.30" y1="375.40" x2="1224.80" y2="374.40" stroke="#1e1e1e" stroke-width="2.0" />
<path d="M1207.70,376.80 L1225.10,375.80 L1237.00,449.20 L1213.60,450.30 Z" stroke="#1e1e1e" stroke-width="1.3" fill="#fff" />
<path d="M1212.8,452 Q1212.5,449.8 1215,449.6 L1235.5,448.6 Q1237.8,448.6 1237.8,451 Q1237.6,456.8 1225.6,457.2 Q1213.3,457.5 1212.8,452 Z" stroke="#1e1e1e" stroke-width="1.3" fill="#fff" />
<path d="M1215.5,452.5 Q1225.5,449.5 1235.5,452" stroke="#1e1e1e" stroke-width="1.2" fill="none" />
<path d="M1179.3,165.3 Q1179.3,158.3 1186.3,158.3 L1210.3,158.3 Q1217.3,158.3 1217.3,165.3 L1217.3,278.6 Q1217.3,285.6 1210.3,285.6 L1186.3,285.6 Q1179.3,285.6 1179.3,278.6 Z" stroke="#1e1e1e" stroke-width="1.6" fill="#fff" />
<path d="M1179.60,165.9 L1179.60,278.0 Q1179.60,282.1 1180.10,283.40000000000003 Q1180.60,282.1 1180.60,278.0 L1180.60,165.9 Q1180.60,161.8 1180.10,160.5 Q1179.60,161.8 1179.60,165.9 Z" fill="#111"/>
<path d="M1180.60,165.9 L1180.60,278.0 Q1180.60,282.1 1182.35,283.40000000000003 Q1184.10,282.1 1184.10,278.0 L1184.10,165.9 Q1184.10,161.8 1182.35,160.5 Q1180.60,161.8 1180.60,165.9 Z" fill="#7a7a7a"/>
<path d="M1184.10,165.9 L1184.10,278.0 Q1184.10,282.1 1184.55,283.40000000000003 Q1185.00,282.1 1185.00,278.0 L1185.00,165.9 Q1185.00,161.8 1184.55,160.5 Q1184.10,161.8 1184.10,165.9 Z" fill="#111"/>
<path d="M1187.15,165.9 L1187.15,278.0 Q1187.15,282.1 1187.60,283.40000000000003 Q1188.05,282.1 1188.05,278.0 L1188.05,165.9 Q1188.05,161.8 1187.60,160.5 Q1187.15,161.8 1187.15,165.9 Z" fill="#111"/>
<path d="M1188.00,165.9 L1188.00,278.0 Q1188.00,282.1 1189.40,283.40000000000003 Q1190.80,282.1 1190.80,278.0 L1190.80,165.9 Q1190.80,161.8 1189.40,160.5 Q1188.00,161.8 1188.00,165.9 Z" fill="#6a6a6a"/>
<path d="M1193.10,165.9 L1193.10,278.0 Q1193.10,282.1 1195.05,283.40000000000003 Q1197.00,282.1 1197.00,278.0 L1197.00,165.9 Q1197.00,161.8 1195.05,160.5 Q1193.10,161.8 1193.10,165.9 Z" fill="#2e2e2e"/>
<path d="M1200.10,165.9 L1200.10,278.0 Q1200.10,282.1 1200.60,283.40000000000003 Q1201.10,282.1 1201.10,278.0 L1201.10,165.9 Q1201.10,161.8 1200.60,160.5 Q1200.10,161.8 1200.10,165.9 Z" fill="#111"/>
<path d="M1201.10,165.9 L1201.10,278.0 Q1201.10,282.1 1202.35,283.40000000000003 Q1203.60,282.1 1203.60,278.0 L1203.60,165.9 Q1203.60,161.8 1202.35,160.5 Q1201.10,161.8 1201.10,165.9 Z" fill="#555"/>
<path d="M1205.95,165.9 L1205.95,278.0 Q1205.95,282.1 1206.40,283.40000000000003 Q1206.85,282.1 1206.85,278.0 L1206.85,165.9 Q1206.85,161.8 1206.40,160.5 Q1205.95,161.8 1205.95,165.9 Z" fill="#111"/>
<path d="M1206.80,165.9 L1206.80,278.0 Q1206.80,282.1 1208.35,283.40000000000003 Q1209.90,282.1 1209.90,278.0 L1209.90,165.9 Q1209.90,161.8 1208.35,160.5 Q1206.80,161.8 1206.80,165.9 Z" fill="#8c8c8c"/>
<path d="M1211.05,165.9 L1211.05,278.0 Q1211.05,282.1 1211.50,283.40000000000003 Q1211.95,282.1 1211.95,278.0 L1211.95,165.9 Q1211.95,161.8 1211.50,160.5 Q1211.05,161.8 1211.05,165.9 Z" fill="#333"/>
<path d="M1211.90,165.9 L1211.90,278.0 Q1211.90,282.1 1213.65,283.40000000000003 Q1215.40,282.1 1215.40,278.0 L1215.40,165.9 Q1215.40,161.8 1213.65,160.5 Q1211.90,161.8 1211.90,165.9 Z" fill="#9a9a9a"/>
<path d="M1216.00,165.9 L1216.00,278.0 Q1216.00,282.1 1216.50,283.40000000000003 Q1217.00,282.1 1217.00,278.0 L1217.00,165.9 Q1217.00,161.8 1216.50,160.5 Q1216.00,161.8 1216.00,165.9 Z" fill="#111"/>
<line x1="1180.30" y1="165.80" x2="1216.30" y2="165.80" stroke="#222" stroke-width="0.9" />
<line x1="1180.30" y1="278.10" x2="1216.30" y2="278.10" stroke="#222" stroke-width="0.9" />
<path d="M1179.2,156.6 L1179.2,140 L1217.5,139 L1217.5,156.6 Z" stroke="#1e1e1e" stroke-width="1.4" fill="#fff" />
<line x1="1179.20" y1="150.80" x2="1217.50" y2="150.80" stroke="#1e1e1e" stroke-width="2.0" />
<line x1="1179.20" y1="156.60" x2="1217.50" y2="156.60" stroke="#1e1e1e" stroke-width="1.6" />
<path d="M1162.4,135.5 L1162.4,101.5 Q1162.6,100.4 1164,100.4 L1198.5,98.2 L1198.5,135.5 Z" stroke="#1e1e1e" stroke-width="1.4" fill="#fff" />
<line x1="1167.60" y1="101.00" x2="1167.60" y2="135.50" stroke="#1e1e1e" stroke-width="1.2" />
<line x1="1162.40" y1="117.60" x2="1198.50" y2="117.60" stroke="#1e1e1e" stroke-width="1.4" />
<path d="M1198.5,98.2 L1218.9,97.8 L1218.9,138.4 L1198.5,138.4" stroke="#1e1e1e" stroke-width="1.3" fill="#fff" />
<path d="M1199.5,118.5 Q1212,121 1218.5,131.5 Q1216.5,137.5 1212,138.2 Q1201,131 1199.5,118.5 Z" stroke="#1e1e1e" stroke-width="1.2" fill="#fff" />
<line x1="1211.50" y1="138.00" x2="1218.00" y2="133.50" stroke="#1e1e1e" stroke-width="1.0" />
<path d="M1175,135.8 Q1177,140 1180.5,141.5 L1185.5,141.5 Q1193,139 1198.5,136" stroke="#1e1e1e" stroke-width="1.2" fill="none" />
<path d="M1178,136 L1184,141" stroke="#1e1e1e" stroke-width="1.0" fill="none" />
<path d="M1219.3,97 Q1219.3,95.4 1221,95.4 L1239.7,95.4 Q1241.4,95.4 1241.4,97 L1241.4,137.4 Q1241.4,139 1239.7,139 L1221,139 Q1219.3,139 1219.3,137.4 Z" stroke="#1e1e1e" stroke-width="1.4" fill="#fff" />
<rect x="1223.6" y="95.8" width="12.6" height="42.8" fill="#0e0e0e"/>
<line x1="1225.00" y1="101.50" x2="1235.00" y2="101.50" stroke="#777" stroke-width="0.8" />
<line x1="1225.00" y1="104.50" x2="1235.00" y2="104.50" stroke="#777" stroke-width="0.8" />
<line x1="1225.00" y1="115.50" x2="1235.00" y2="115.50" stroke="#777" stroke-width="0.8" />
<line x1="1225.00" y1="119.50" x2="1235.00" y2="119.50" stroke="#777" stroke-width="0.8" />
<line x1="1225.00" y1="123.50" x2="1235.00" y2="123.50" stroke="#777" stroke-width="0.8" />
<path d="M1163.30,135.30 L1167.00,135.30 L1156.60,178.80 L1153.30,178.40 Z" stroke="#1e1e1e" stroke-width="1.3" fill="#fff" />
</svg></body></html>
